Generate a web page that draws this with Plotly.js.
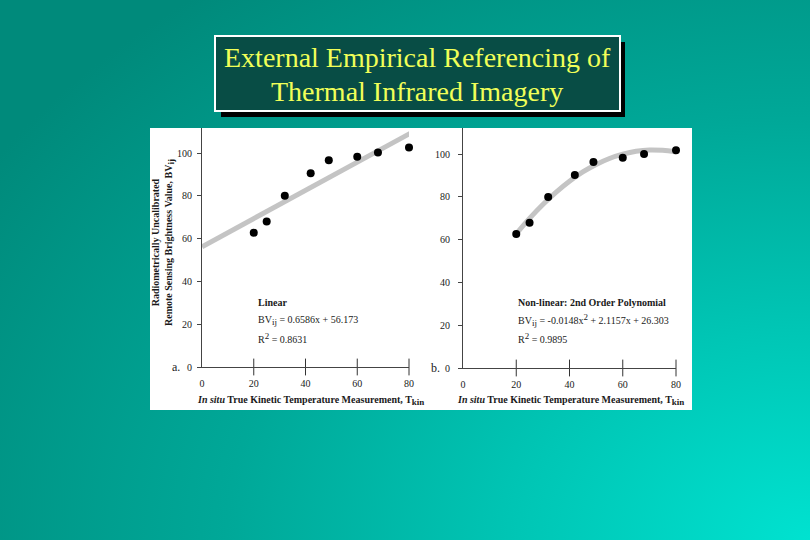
<!DOCTYPE html>
<html>
<head>
<meta charset="utf-8">
<script src="https://cdn.plot.ly/plotly-3.0.1.min.js"></script>
<style>
html,body{margin:0;padding:0;width:810px;height:540px;overflow:hidden;}
body{background:radial-gradient(ellipse 120% 130% at 100% 100%, #00e2d0 0%, #00c6b5 30%, #00a898 60%, #008a7b 100%);}
#chart{width:810px;height:540px;}
</style>
</head>
<body>
<div id="chart"></div>
<script>
// Measured data (same in both panels)
const tempLeft = [20, 25, 32, 42, 49, 60, 68, 80];
const bvLeft   = [62.7, 68, 80, 90.5, 96.6, 98.3, 100.2, 102.6];
const tempRight = [20, 25, 32, 42, 49, 60, 68, 80];
const bvRight   = [62.6, 67.9, 79.9, 90.2, 96.3, 98.3, 100, 101.7];

// Fitted lines
const linFitX = [0, 82];
const linFitY = [56.2, 110.2];
const polyFitX = [20, 25, 30, 35, 40, 45, 50, 55, 60, 65, 70, 75, 80];
const polyFitY = [62.7, 69.9, 76.4, 82.2, 87.3, 91.6, 95.1, 97.9, 99.9, 101.3, 101.9, 101.7, 100.9];

// Axis ticks
const xTicks = [0, 20, 40, 60, 80];
const xCross = [20, 40, 60, 80];
const xCrossY = [0, 0, 0, 0];
const yTicks = [0, 20, 40, 60, 80, 100];

const sub = t => '<sub><span style="font-size:9px">' + t + '</span></sub>';
const sup = t => '<sup><span style="font-size:9px">' + t + '</span></sup>';

const titleLines = ["External Empirical Referencing of", "Thermal Infrared Imagery"];
const xTitle = "<b><i>In situ</i> True Kinetic Temperature Measurement, T" + sub("kin") + "</b>";
const yTitle = "<b>Radiometrically Uncalibrated<br>Remote Sensing Brightness Value, BV" + sub("ij") + "</b>";
const leftNote = ["<b>Linear</b>", "BV" + sub("ij") + " = 0.6586x + 56.173", "R" + sup("2") + " = 0.8631"];
const rightNote = ["<b>Non-linear: 2nd Order Polynomial</b>", "BV" + sub("ij") + " = -0.0148x" + sup("2") + " + 2.1157x + 26.303", "R" + sup("2") + " = 0.9895"];

const W = 810, H = 540;
const px = x => x / W;
const py = y => 1 - y / H;
const serif = "Liberation Serif, Times New Roman, serif";
const ink = "#1a1a1a";

const fitLine = {color: "#c4c4c4", width: 5};
const dot = {color: "#000000", size: 8};

const traces = [
  {x: linFitX, y: linFitY, mode: "lines", line: fitLine, xaxis: "x", yaxis: "y", hoverinfo: "skip", cliponaxis: false},
  {x: tempLeft, y: bvLeft, mode: "markers", marker: dot, xaxis: "x", yaxis: "y", cliponaxis: false},
  {x: xCross, y: xCrossY, mode: "markers", marker: {symbol: "line-ns", size: 12, line: {color: "#333", width: 1}}, xaxis: "x", yaxis: "y", cliponaxis: false, hoverinfo: "skip"},
  {x: polyFitX, y: polyFitY, mode: "lines", line: Object.assign({shape: "spline"}, fitLine), xaxis: "x2", yaxis: "y2", hoverinfo: "skip", cliponaxis: false},
  {x: tempRight, y: bvRight, mode: "markers", marker: dot, xaxis: "x2", yaxis: "y2", cliponaxis: false},
  {x: xCross, y: xCrossY, mode: "markers", marker: {symbol: "line-ns", size: 12, line: {color: "#333", width: 1}}, xaxis: "x2", yaxis: "y2", cliponaxis: false, hoverinfo: "skip"}
];

function xAxis(domain) {
  return {domain: domain, range: [0, 80], showgrid: false, zeroline: false, showline: true,
    linecolor: "#444", linewidth: 1, ticks: "", tickvals: xTicks,
    ticklabelstandoff: 7, tickfont: {family: serif, size: 10, color: ink}, fixedrange: true, automargin: false};
}
function yAxis(domain, top, anchor, standoff) {
  return {domain: domain, range: [0, top], showgrid: false, zeroline: false, showline: true,
    linecolor: "#444", linewidth: 1, ticks: "outside", ticklen: 4, tickcolor: "#444", tickvals: yTicks,
    ticklabelstandoff: standoff, tickfont: {family: serif, size: 10, color: ink}, anchor: anchor, fixedrange: true, automargin: false};
}

const annotations = [];
function addText(text, x, y, opts) {
  annotations.push(Object.assign({text: text, x: px(x), y: py(y), xref: "paper", yref: "paper",
    showarrow: false, font: {family: serif, size: 10, color: ink}, xanchor: "left", yanchor: "middle"}, opts || {}));
}
// slide title
addText(titleLines[0], 417, 58, {xanchor: "center", font: {family: serif, size: 28, color: "#f0ff58"}});
addText(titleLines[1], 417, 91, {xanchor: "center", font: {family: serif, size: 28, color: "#f0ff58"}});
// axis titles
addText(xTitle, 310, 400, {xanchor: "center", font: {family: serif, size: 10, color: ink}});
addText(xTitle, 570, 400, {xanchor: "center", font: {family: serif, size: 10, color: ink}});
addText(yTitle, 163, 243, {xanchor: "center", textangle: -90, font: {family: serif, size: 10, color: ink}});
// panel letters
addText("a.", 176, 367, {xanchor: "center", font: {family: serif, size: 12, color: ink}});
addText("b.", 435, 368, {xanchor: "center", font: {family: serif, size: 12, color: ink}});
// equations
leftNote.forEach((t, i) => addText(t, 256, 302 + i * 18, {}));
rightNote.forEach((t, i) => addText(t, 516, 302 + i * 18, {}));

const shapes = [
  {type: "rect", xref: "paper", yref: "paper", x0: px(150), x1: px(692), y0: py(128), y1: py(410), fillcolor: "#ffffff", line: {width: 0}, layer: "below"},
  {type: "rect", xref: "paper", yref: "paper", x0: px(221), x1: px(625), y0: py(42), y1: py(117), fillcolor: "#000000", line: {width: 0}, layer: "below"},
  {type: "rect", xref: "paper", yref: "paper", x0: px(215), x1: px(620), y0: py(36), y1: py(111), fillcolor: "#084d45", line: {color: "#ffffff", width: 2}, layer: "below"}
];

const layout = {
  width: W, height: H, margin: {l: 0, r: 0, t: 0, b: 0, pad: 0},
  paper_bgcolor: "rgba(0,0,0,0)", plot_bgcolor: "rgba(0,0,0,0)",
  showlegend: false, hovermode: false,
  xaxis: Object.assign(xAxis([px(202), px(409)]), {anchor: "y"}),
  yaxis: yAxis([py(367), py(128)], (367 - 128) / 2.14, "x", 3),
  xaxis2: Object.assign(xAxis([px(463), px(676)]), {anchor: "y2"}),
  yaxis2: yAxis([py(368), py(128)], (368 - 128) / 2.14, "x2", 6),
  shapes: shapes, annotations: annotations
};

Plotly.newPlot("chart", traces, layout, {displayModeBar: false, staticPlot: true});
</script>
</body>
</html>
